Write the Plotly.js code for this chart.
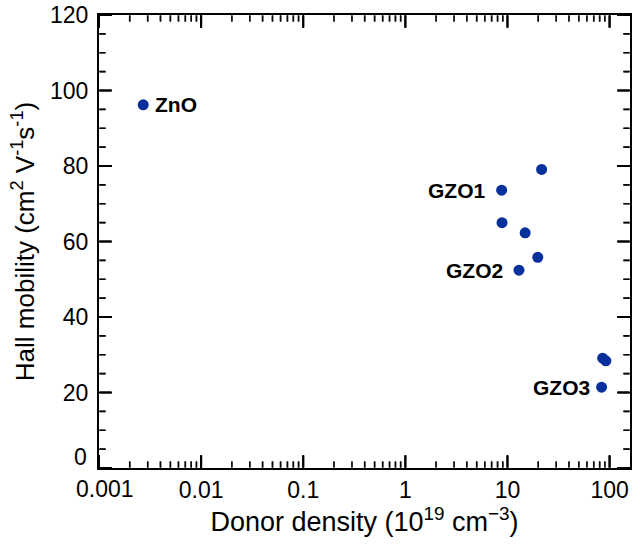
<!DOCTYPE html>
<html>
<head>
<meta charset="utf-8">
<script src="https://cdn.plot.ly/plotly-3.0.1.min.js"></script>
<style>html,body{margin:0;padding:0;background:#fff;}#chart{width:640px;height:545px;}</style>
</head>
<body>
<div id="chart"></div>
<script>
// Data
const donorDensity = [0.00271, 21.6, 8.77, 8.85, 14.9, 19.8, 12.97, 85.5, 92, 83.5];
const hallMobility = [96.2, 79.1, 73.6, 65.0, 62.3, 55.8, 52.4, 29.1, 28.4, 21.4];
const labelNames = ['ZnO', 'GZO1', 'GZO2', 'GZO3'];
const labelPoint = [0, 2, 6, 9];          // index of the point each label belongs to
const xTickVals = [0.001, 0.01, 0.1, 1, 10, 100];
const xTickText = ['', '0.01', '0.1', '1', '10', '100'];
const yTickVals = [0, 20, 40, 60, 80, 100, 120];
const yTickText = ['', '20', '40', '60', '80', '100', '120'];
const yMinorStep = 5;

const FONT = 'Liberation Sans, Arial, Helvetica, sans-serif';
const W = 640, H = 545, M = {l: 99, r: 10, t: 15, b: 77};
const PW = W - M.l - M.r, PH = H - M.t - M.b;
const XR = [-3, 2.2], YR = [0, 120];

const minorX = [];
for (let e = -3; e <= 2; e++) for (let d = 2; d <= 9; d++) minorX.push(d * Math.pow(10, e));
const minorY = [];
for (let v = YR[0]; v <= YR[1]; v += yMinorStep) if (v % 20 !== 0) minorY.push(v);

// inside tick marks (mirrored on top / right), built from the tick arrays
// as rows of small filled squares
function tickMarks(xv, yv, len, width) {
  const xs = [], ys = [];
  const pxY = (YR[1] - YR[0]) / PH, pxX = (XR[1] - XR[0]) / PW;
  for (let o = 1; o <= len - 1; o += 1) {
    xv.forEach(v => { xs.push(v, v); ys.push(YR[0] + o * pxY, YR[1] - o * pxY); });
    yv.forEach(v => {
      xs.push(Math.pow(10, XR[0] + o * pxX), Math.pow(10, XR[1] - o * pxX));
      ys.push(v, v);
    });
  }
  return {x: xs, y: ys, type: 'scatter', mode: 'markers', cliponaxis: false, hoverinfo: 'skip', showlegend: false,
          marker: {symbol: 'square', size: width, color: '#000', line: {width: 0}}};
}

const trace = {
  x: donorDensity, y: hallMobility, type: 'scatter', mode: 'markers',
  marker: {size: 11, color: '#06309c'},
  cliponaxis: false, hoverinfo: 'skip'
};

const labelShift = [10, -15, -14, -10];
const annotations = labelPoint.map((idx, k) => ({
  x: Math.log10(donorDensity[idx]), y: hallMobility[idx], xref: 'x', yref: 'y',
  text: '<b>' + labelNames[k] + '</b>', showarrow: false,
  xanchor: k === 0 ? 'left' : 'right', yanchor: 'middle',
  xshift: labelShift[k], yshift: 0,
  font: {size: 21, family: FONT, color: '#000'}
}));
annotations.push(
  {x: Math.log10(xTickVals[0]), y: 0, xref: 'x', yref: 'paper', yanchor: 'top', xanchor: 'center',
   text: '0.001', showarrow: false, font: {size: 23, family: FONT}, xshift: 6, yshift: -6},
  {x: 0, xref: 'paper', y: yTickVals[0], yref: 'y', xanchor: 'right', yanchor: 'middle',
   text: '0', showarrow: false, font: {size: 23, family: FONT}, xshift: -10, yshift: 11}
);

const common = {
  ticks: '', showline: true, linewidth: 2, linecolor: '#000',
  mirror: true, showgrid: false, zeroline: false
};

const layout = {
  width: W, height: H,
  margin: M,
  paper_bgcolor: '#fff', plot_bgcolor: '#fff',
  showlegend: false,
  font: {family: FONT, color: '#000'},
  xaxis: Object.assign({}, common, {
    type: 'log', range: XR,
    tickmode: 'array', tickvals: xTickVals, ticktext: xTickText,
    tickfont: {size: 23, family: FONT},
    title: {text: 'Donor density (10<sup>19</sup> cm<sup>−3</sup>)', font: {size: 27, family: FONT}, standoff: 6}
  }),
  yaxis: Object.assign({}, common, {
    range: YR,
    tickmode: 'array', tickvals: yTickVals, ticktext: yTickText,
    ticklabelstandoff: 4,
    tickfont: {size: 23, family: FONT},
    title: {text: 'Hall mobility (cm<sup>2</sup> V<sup>-1</sup>s<sup>-1</sup>)', font: {size: 26, family: FONT}, standoff: 8}
  }),
  annotations: annotations
};

Plotly.newPlot('chart', [
  tickMarks(xTickVals, yTickVals, 13, 2),
  tickMarks(minorX, minorY, 7, 1.6),
  trace
], layout, {displayModeBar: false});
</script>
</body>
</html>
